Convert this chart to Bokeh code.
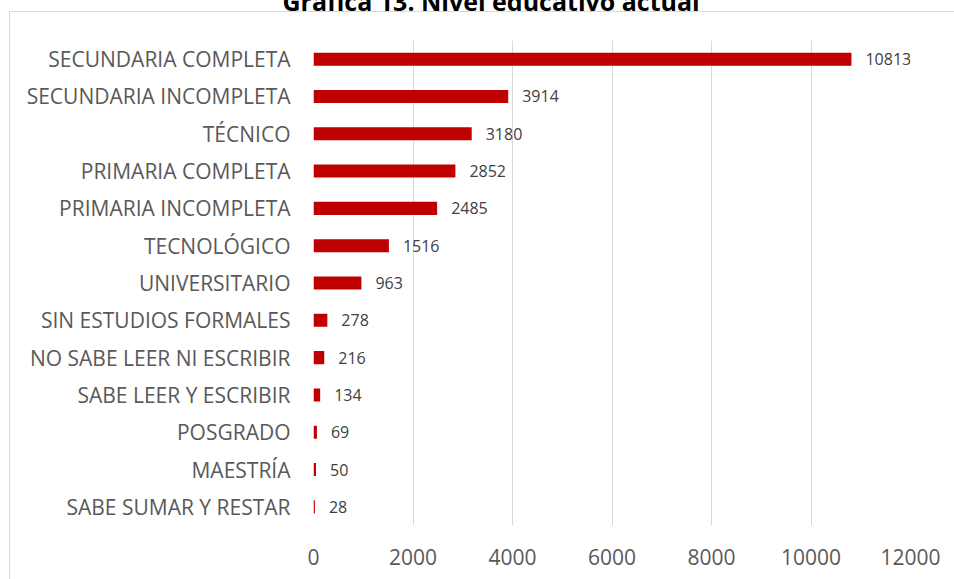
from bokeh.plotting import figure
from bokeh.models import Range1d, FactorRange, ColumnDataSource, FixedTicker
from bokeh.core.properties import value
from bokeh.embed import file_html
from bokeh.resources import INLINE

categories = ["SECUNDARIA COMPLETA", "SECUNDARIA INCOMPLETA", "TÉCNICO", "PRIMARIA COMPLETA",
              "PRIMARIA INCOMPLETA", "TECNOLÓGICO", "UNIVERSITARIO", "SIN ESTUDIOS FORMALES",
              "NO SABE LEER NI ESCRIBIR", "SABE LEER Y ESCRIBIR", "POSGRADO", "MAESTRÍA",
              "SABE SUMAR Y RESTAR"]
counts = [10813, 3914, 3180, 2852, 2485, 1516, 963, 278, 216, 134, 69, 50, 28]
x_ticks = [0, 2000, 4000, 6000, 8000, 10000, 12000]
title_text = "Gráfica 13. Nivel educativo actual"

FONT = "Open Sans"
SHIFT = 50
W, H = 954, 579 + SHIFT
FL, FR, FT, FB = 313, 44, 40 + SHIFT, 54

src = ColumnDataSource(dict(cat=categories, val=counts, lab=[str(v) for v in counts]))

p = figure(width=W, height=H, output_backend="svg", toolbar_location=None,
           x_range=Range1d(0, 12000), y_range=FactorRange(*reversed(categories)),
           min_border_left=FL, min_border_right=FR, min_border_top=FT, min_border_bottom=FB,
           title=title_text)
grad = "linear-gradient(#d9d9d9,#d9d9d9)"
p.styles = {
    "margin-top": f"-{SHIFT}px",
    "margin-bottom": "-8px",
    "background": f"{grad} 9px {11 + SHIFT}px / 1px 100% no-repeat, "
                  f"{grad} 9px {11 + SHIFT}px / 100% 1px no-repeat, white",
}
p.outline_line_color = None
p.background_fill_color = None
p.border_fill_color = None

p.title.align = "left"
p.title.offset = -31
p.title.standoff = 45
p.title.text_font = FONT
p.title.text_font_style = "bold"
p.title.text_font_size = "25px"
p.title.text_color = "black"

p.hbar(y="cat", right="val", left=0, height=0.35, source=src,
       fill_color="#C00000", line_color=None)
p.text(x="val", y="cat", text="lab", source=src, x_offset=14,
       text_align="left", text_baseline="middle", text_font=value(FONT),
       text_font_size="16px", text_color="#404040")

p.xgrid.ticker = FixedTicker(ticks=x_ticks)
p.xgrid.grid_line_color = "#d9d9d9"
p.xgrid.grid_line_width = 1
p.ygrid.grid_line_color = None

p.xaxis.ticker = FixedTicker(ticks=x_ticks)
p.xaxis.axis_line_color = None
p.xaxis.major_tick_line_color = None
p.xaxis.minor_tick_line_color = None
p.xaxis.major_label_text_font = FONT
p.xaxis.major_label_text_font_size = "21px"
p.xaxis.major_label_text_color = "#595959"
p.xaxis.major_label_standoff = 17

p.yaxis.axis_line_color = None
p.yaxis.major_tick_line_color = None
p.yaxis.minor_tick_line_color = None
p.yaxis.major_label_text_font = FONT
p.yaxis.major_label_text_font_size = "21px"
p.yaxis.major_label_text_color = "#595959"
p.yaxis.major_label_standoff = 17

open("out.html", "w").write(file_html(p, INLINE))
